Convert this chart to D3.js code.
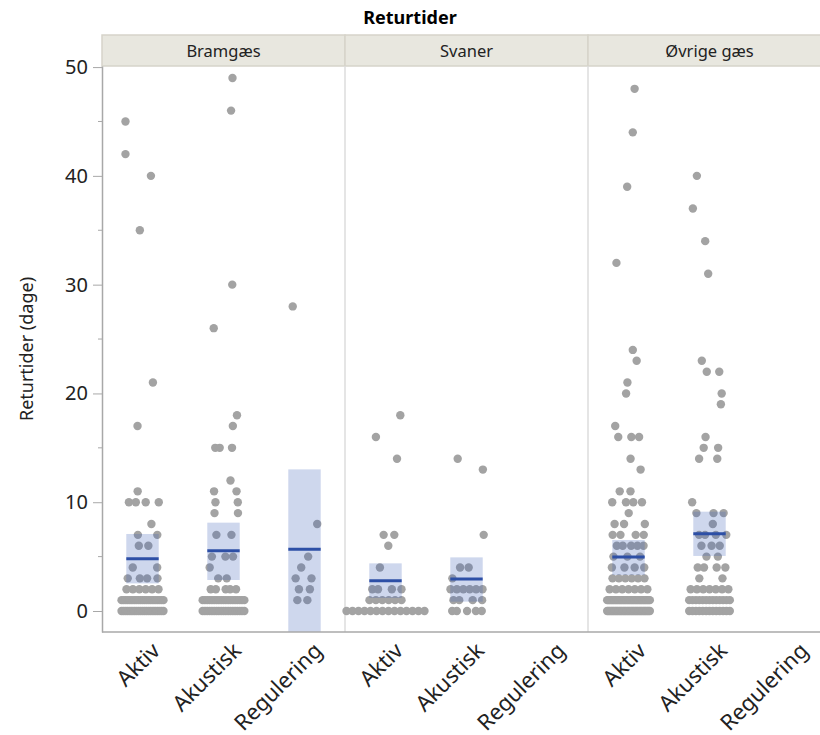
<!DOCTYPE html>
<html>
<head>
<meta charset="utf-8">
<script src="https://cdn.jsdelivr.net/npm/d3@7"></script>
<style>
  body { margin: 0; background: #fff; }
  svg { display: block; font-family: "Noto Sans", "Open Sans", sans-serif; }
</style>
</head>
<body>
<div id="chart"></div>
<script>
// ---- data ----
const species = ["Bramgæs", "Svaner", "Øvrige gæs"];
const methods = ["Aktiv", "Akustisk", "Regulering"];
const yTicks = [0, 10, 20, 30, 40, 50];
const yMinorTicks = [5, 15, 25, 35, 45];

// [return time in days, number of observations at that value]
const bramAktiv = [[0, 21], [1, 21], [2, 6], [3, 4], [4, 2], [6, 2], [7, 2], [8, 1], [10, 4], [11, 1], [17, 1], [21, 1], [35, 1], [40, 1], [42, 1], [45, 1]];
const bramAkustisk = [[0, 19], [1, 19], [2, 5], [3, 2], [4, 1], [5, 3], [7, 2], [9, 2], [10, 2], [11, 2], [12, 1], [15, 3], [17, 1], [18, 1], [26, 1], [30, 1], [46, 1], [49, 1]];
const bramRegulering = [[1, 2], [2, 2], [3, 2], [4, 1], [5, 1], [8, 1], [28, 1]];
const svanAktiv = [[0, 14], [1, 6], [2, 4], [4, 1], [6, 1], [7, 2], [14, 1], [16, 1], [18, 1]];
const svanAkustisk = [[0, 5], [1, 4], [2, 6], [3, 1], [4, 2], [7, 1], [13, 1], [14, 1]];
const svanRegulering = [];
const ovrAktiv = [[0, 33], [1, 33], [2, 7], [3, 6], [4, 4], [5, 3], [6, 5], [7, 4], [8, 3], [9, 1], [10, 4], [11, 2], [13, 1], [14, 1], [16, 3], [17, 1], [20, 1], [21, 1], [23, 1], [24, 1], [32, 1], [39, 1], [44, 1], [48, 1]];
const ovrAkustisk = [[0, 13], [1, 13], [2, 7], [3, 2], [4, 4], [5, 2], [6, 3], [7, 4], [8, 1], [9, 3], [10, 1], [14, 2], [15, 2], [16, 1], [19, 1], [20, 1], [22, 2], [23, 1], [31, 1], [34, 1], [37, 1], [40, 1]];
const ovrRegulering = [];

// group means and 95% confidence limits (null = no data)
const means = [[4.81, 5.54, 5.67], [2.79, 2.94, null], [4.96, 7.11, null]];
const ciLow = [[2.54, 2.85, -2.2], [1.2, 0.86, null], [3.31, 5.06, null]];
const ciHigh = [[7.08, 8.12, 13.02], [4.38, 4.93, null], [6.53, 9.13, null]];

const groups = [
  [bramAktiv, bramAkustisk, bramRegulering],
  [svanAktiv, svanAkustisk, svanRegulering],
  [ovrAktiv, ovrAkustisk, ovrRegulering],
];

const COLOR = {
  dot: "#a3a3a3",
  ci: "rgba(60, 95, 185, 0.25)",
  mean: "#2d4fa6",
  axis: "#a8a8a8",
  sep: "#dcdcdc",
  strip: "#e8e7df",
  stripEdge: "#d6d4ca",
  text: "#222",
};

// ---- dimensions ----
const width = 820;
const height = 735;
const plot = { left: 102, top: 66, bottom: 632, panelW: 243 };

const svg = d3.select("#chart").append("svg")
  .attr("width", width).attr("height", height);

// ---- scales ----
const xPanel = d3.scaleBand().domain(species)
  .range([plot.left, plot.left + plot.panelW * species.length]);
const xMethod = d3.scaleBand().domain(methods).range([0, plot.panelW]);
const y = d3.scaleLinear().domain([-1.93, 50.1]).range([plot.bottom, plot.top]);
const boxW = xMethod.bandwidth() * 0.4;

svg.append("clipPath").attr("id", "plotClip")
  .append("rect")
  .attr("x", plot.left).attr("y", plot.top)
  .attr("width", plot.panelW * species.length).attr("height", plot.bottom - plot.top);

// ---- title + strips ----
svg.append("text")
  .attr("x", 410).attr("y", 24)
  .attr("text-anchor", "middle")
  .attr("font-size", 18).attr("font-weight", 700)
  .attr("fill", "#000")
  .text("Returtider");

const strips = svg.append("g").selectAll("g").data(species).join("g")
  .attr("transform", (s) => `translate(${xPanel(s)},35)`);
strips.append("rect")
  .attr("width", plot.panelW).attr("height", 31)
  .attr("fill", COLOR.strip).attr("stroke", COLOR.stripEdge).attr("stroke-width", 1.5);
strips.append("text")
  .attr("x", plot.panelW / 2).attr("y", 21.5)
  .attr("text-anchor", "middle")
  .attr("font-size", 16.5).attr("fill", COLOR.text)
  .text((s) => s);

// panel separators
svg.append("g").selectAll("line").data(species.slice(1)).join("line")
  .attr("x1", (s) => xPanel(s)).attr("x2", (s) => xPanel(s))
  .attr("y1", plot.top).attr("y2", plot.bottom)
  .attr("stroke", COLOR.sep).attr("stroke-width", 1.5);

// ---- dot layout: rows of equal values spread across the band ----
function hash(a, b, c) {
  const s = Math.sin(a * 127.1 + b * 311.7 + c * 74.7) * 43758.5453;
  return s - Math.floor(s);
}

function spread(rows, gi) {
  const total = d3.sum(rows, (r) => r[1]);
  const cap = total < 40 ? 84 : 44;
  const pts = [];
  rows.forEach(([v, n]) => {
    const w = Math.min(cap, Math.max(36, n * 6.4));
    const slot = w / n;
    for (let i = 0; i < n; i++) {
      const j = n > 5 ? 0 : (hash(gi, v, i) - 0.5) * slot * (n === 1 ? 1 : 0.8);
      pts.push({ v, dx: -w / 2 + slot * (i + 0.5) + j });
    }
  });
  return pts;
}

const body = svg.append("g").attr("clip-path", "url(#plotClip)");

species.forEach((s, si) => {
  methods.forEach((m, mi) => {
    const cx = xPanel(s) + xMethod(m) + xMethod.bandwidth() / 2;
    const pts = spread(groups[si][mi], si * 3 + mi + 1);

    body.append("g").selectAll("circle").data(pts).join("circle")
      .attr("cx", (p) => cx + p.dx)
      .attr("cy", (p) => y(p.v))
      .attr("r", 4.2)
      .attr("fill", COLOR.dot);

    if (means[si][mi] === null) return;
    body.append("rect")
      .attr("x", cx - boxW / 2).attr("width", boxW)
      .attr("y", y(ciHigh[si][mi]))
      .attr("height", y(ciLow[si][mi]) - y(ciHigh[si][mi]))
      .attr("fill", COLOR.ci);
    body.append("line")
      .attr("x1", cx - boxW / 2).attr("x2", cx + boxW / 2)
      .attr("y1", y(means[si][mi])).attr("y2", y(means[si][mi]))
      .attr("stroke", COLOR.mean).attr("stroke-width", 3);
  });
});

// ---- axes ----
const yAxis = svg.append("g")
  .attr("transform", `translate(${plot.left},0)`)
  .call(d3.axisLeft(y).tickValues(yTicks).tickSize(9).tickSizeOuter(0).tickPadding(5));
yAxis.select(".domain").attr("stroke", COLOR.axis).attr("stroke-width", 1.5);
yAxis.selectAll(".tick line").attr("stroke", COLOR.axis);
yAxis.selectAll(".tick text")
  .attr("font-size", 20).attr("fill", COLOR.text)
  .attr("font-family", "\"Noto Sans\", sans-serif");

svg.append("g").selectAll("line").data(yMinorTicks).join("line")
  .attr("x1", plot.left - 4).attr("x2", plot.left)
  .attr("y1", (t) => y(t)).attr("y2", (t) => y(t))
  .attr("stroke", COLOR.axis);

svg.append("line")
  .attr("x1", plot.left).attr("x2", plot.left + plot.panelW * species.length)
  .attr("y1", plot.bottom).attr("y2", plot.bottom)
  .attr("stroke", COLOR.axis).attr("stroke-width", 1.5);

svg.append("text")
  .attr("transform", `translate(33,${(plot.top + plot.bottom) / 2}) rotate(-90)`)
  .attr("text-anchor", "middle")
  .attr("font-size", 18).attr("fill", COLOR.text)
  .text("Returtider (dage)");

// rotated category labels under each panel
const xLabels = species.flatMap((s) => methods.map((m) => ({ s, m })));
svg.append("g").selectAll("text").data(xLabels).join("text")
  .attr("transform", (d) => {
    const cx = xPanel(d.s) + xMethod(d.m) + xMethod.bandwidth() / 2;
    return `translate(${cx + 19},${plot.bottom + 20}) rotate(-45)`;
  })
  .attr("text-anchor", "end")
  .attr("font-size", 22).attr("fill", COLOR.text)
  .text((d) => d.m);
</script>
</body>
</html>
